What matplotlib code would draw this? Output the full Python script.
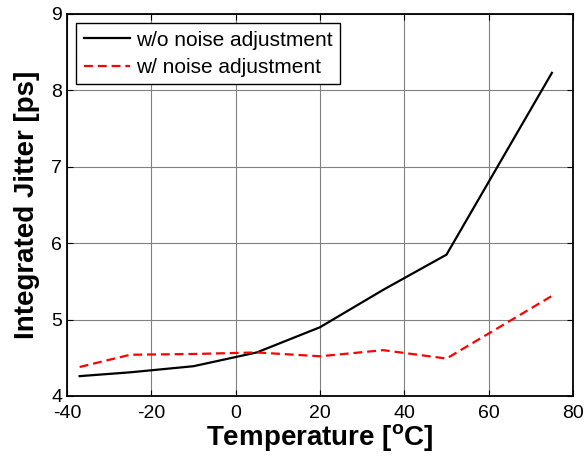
import matplotlib
matplotlib.use("Agg")
import matplotlib.pyplot as plt

plt.rcParams['font.family'] = ['Liberation Sans', 'DejaVu Sans']
plt.rcParams['axes.unicode_minus'] = False

# Temperature sweep [°C]
temps = [-37, -25, -10, 5, 20, 35, 50, 75]
# Integrated jitter [ps]
jitter_no_adj = [4.26, 4.31, 4.39, 4.57, 4.90, 5.39, 5.85, 8.23]
jitter_adj = [4.38, 4.54, 4.55, 4.57, 4.52, 4.60, 4.49, 5.31]

fig = plt.figure(figsize=(5.85, 4.67), dpi=100)
ax = fig.add_axes([67 / 585, 1 - 396 / 467, (573 - 67) / 585, (396 - 14) / 467])

ax.plot(temps, jitter_no_adj, color='black', lw=1.6, label='w/o noise adjustment')
ax.plot(temps, jitter_adj, color='red', lw=1.6, ls=(0, (4, 2.2)), label='w/ noise adjustment')

ax.set_xlim(-40, 80)
ax.set_ylim(4, 9)
ax.set_xticks([-40, -20, 0, 20, 40, 60, 80])
ax.set_yticks([4, 5, 6, 7, 8, 9])
ax.grid(True, color='#808080', lw=0.8)
ax.tick_params(direction='in', top=True, right=True, labelsize=14, length=4)
ax.tick_params(axis='x', pad=6.5)
ax.tick_params(axis='y', pad=3.5)
for s in ax.spines.values():
    s.set_linewidth(1.3)

ax.set_xlabel('Temperature [$\\mathregular{^{o}}$C]', fontsize=20, fontweight='bold', labelpad=0)
ax.set_ylabel('Integrated Jitter [ps]', fontsize=20, fontweight='bold', labelpad=8)

leg = ax.legend(loc='upper left', fontsize=15, frameon=True, fancybox=False,
                edgecolor='black', framealpha=1, borderaxespad=0.45,
                handlelength=2.2, handletextpad=0.3, borderpad=0.35, labelspacing=0.4)
leg.get_frame().set_linewidth(1.0)

fig.savefig('out.png', dpi=100)
